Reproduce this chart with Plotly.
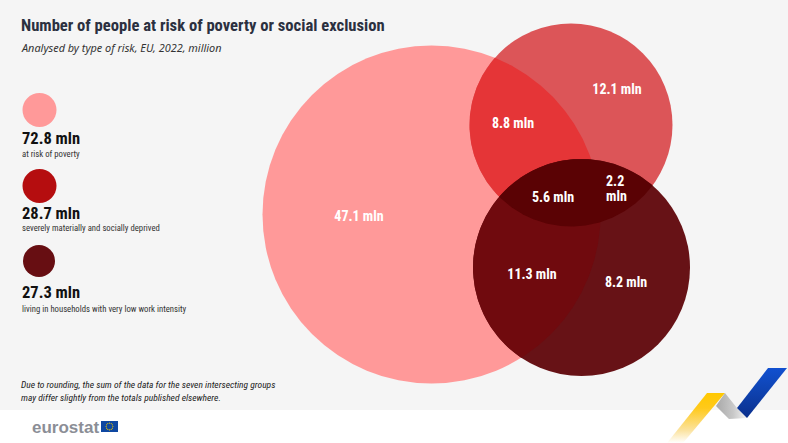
import numpy as np
import plotly.graph_objects as go

# ---- data ----
group_values = [72.8, 28.7, 27.3]
group_labels = ["at risk of poverty", "severely materially and socially deprived",
                "living in households with very low work intensity"]
group_colors = ["#FF9999", "#B50D0F", "#670E12"]
circle_x = [431.5, 571, 581.5]
circle_y = [214.5, 125, 267.5]
circle_r = [169, 101.5, 108.5]
body_colors = ["#FF9999", "#DC5558", "#671216"]
overlap_big_red = "#E53537"
overlap_big_dark = "#700A0E"
overlap_red_dark = "#5A0204"
segment_labels = ["47.1 mln", "12.1 mln", "8.8 mln", "5.6 mln", "11.3 mln", "8.2 mln"]
segment_x = [359, 617, 513, 553, 532, 626]
segment_y = [217.5, 90, 124, 198, 275.5, 283]
split_label = ["2.2", "mln"]
split_y = [181, 196]
legend_x = [39.5, 39.5, 39]
legend_y = [110, 186, 261]
legend_d = [34, 34, 32]
legend_value_y = [138, 213, 292]
legend_label_y = [154, 228, 309]

NARROW = "Roboto Condensed"
BG = "#F5F5F5"
fig = go.Figure()


def lens(a, b, n=160):
    """Outline of the intersection of circles a and b."""
    ax, ay, ar = circle_x[a], circle_y[a], circle_r[a]
    bx, by, br = circle_x[b], circle_y[b], circle_r[b]
    d = np.hypot(bx - ax, by - ay)
    t = np.arctan2(by - ay, bx - ax)
    ha = np.arccos((d * d + ar * ar - br * br) / (2 * d * ar))
    hb = np.arccos((d * d + br * br - ar * ar) / (2 * d * br))
    ta = np.linspace(t - ha, t + ha, n)
    tb = np.linspace(t + np.pi - hb, t + np.pi + hb, n)
    xs = np.r_[ax + ar * np.cos(ta), bx + br * np.cos(tb)]
    ys = np.r_[ay + ar * np.sin(ta), by + br * np.sin(tb)]
    return xs, ys


def circle(i):
    fig.add_trace(go.Scatter(x=[circle_x[i]], y=[circle_y[i]], mode="markers",
                             marker=dict(size=2 * circle_r[i], color=body_colors[i], opacity=1, line=dict(width=0))))


def region(a, b, color):
    xs, ys = lens(a, b)
    fig.add_trace(go.Scatter(x=xs, y=ys, mode="lines", fill="toself", fillcolor=color,
                             line=dict(width=0, color=color)))


def ribbon(xs, ys, gtype, stops):
    fig.add_trace(go.Scatter(x=xs, y=ys, mode="lines", fill="toself", line=dict(width=0),
                             fillgradient=dict(type=gtype, colorscale=stops)))


circle(0)
circle(1)
region(0, 1, overlap_big_red)
circle(2)
region(0, 2, overlap_big_dark)
region(1, 2, overlap_red_dark)

# legend circles
fig.add_trace(go.Scatter(x=legend_x, y=legend_y, mode="markers",
                         marker=dict(size=legend_d, color=group_colors, opacity=1, line=dict(width=0))))

# ribbon decoration
ribbon([707, 725, 683, 667, 707], [393, 393, 443, 443, 393], "vertical",
       [[0, "#FFFFFF"], [0.25, "#FBE3A0"], [0.7, "#FFC91A"], [1, "#FFC800"]])
ribbon([725, 716, 729, 747, 737, 725], [393, 406, 419, 418, 408, 393], "horizontal",
       [[0, "#A8A8A8"], [0.55, "#C8C8C8"], [1, "#F4F4F4"]])
ribbon([768, 787, 747, 737, 768], [368, 368, 418, 408, 368], "vertical",
       [[0, "#0A2F8C"], [0.6, "#0F45B5"], [1, "#1150D0"]])

# EU flag stars
angles = np.linspace(0, 2 * np.pi, 12, endpoint=False)
fig.add_trace(go.Scatter(x=109.5 + 3.4 * np.cos(angles), y=426.5 + 3.4 * np.sin(angles), mode="markers",
                         marker=dict(size=1.2, color="#E8C400", opacity=1, line=dict(width=0))))

# value labels
fig.add_trace(go.Scatter(x=segment_x, y=segment_y, mode="text", text=segment_labels,
                         textposition="middle center",
                         textfont=dict(family=NARROW, size=14, color="white", weight="bold")))
anns = []


def txt(x, y, s, size, color, weight="normal", style="normal", family=NARROW):
    anns.append(dict(x=x - 2, y=y, xref="x", yref="y", text=s, showarrow=False, xanchor="left", yanchor="middle",
                     align="left", font=dict(family=family, size=size, color=color, weight=weight, style=style)))


txt(21, 25, "Number of people at risk of poverty or social exclusion", 16.6, "#2B3040", "bold")
txt(21, 47, "Analysed by type of risk, EU, 2022, million", 10.9, "#333333", style="italic", family="Noto Sans")
for v, l, vy, ly in zip(group_values, group_labels, legend_value_y, legend_label_y):
    txt(22, vy, f"{v} mln", 16.5, "#111111", "bold")
    txt(22, ly, l, 8.7, "#333333")
for s, y in zip(split_label, split_y):
    txt(606, y, s, 14, "white", "bold")
txt(21, 384, "Due to rounding, the sum of the data for the seven intersecting groups", 9.5, "#222222", style="italic")
txt(21, 397, "may differ slightly from the totals published elsewhere.", 9.5, "#222222", style="italic")
txt(32, 427, "eurostat", 17, "#8B8E96", "bold", family="Liberation Sans")

fig.update_layout(
    width=788, height=443, autosize=False, showlegend=False,
    paper_bgcolor=BG, plot_bgcolor="rgba(0,0,0,0)",
    margin=dict(l=0, r=0, t=0, b=0),
    xaxis=dict(range=[0, 788], visible=False, fixedrange=True),
    yaxis=dict(range=[443, 0], visible=False, fixedrange=True),
    annotations=anns,
    shapes=[
        dict(type="rect", xref="x", yref="y", x0=0, x1=788, y0=410, y1=443,
             fillcolor="white", line_width=0, layer="below"),
        dict(type="rect", xref="x", yref="y", x0=101, x1=118, y0=421, y1=432,
             fillcolor="#0E47A1", line_width=0, layer="below"),
    ],
)
fig.write_html("out.html", config=dict(displayModeBar=False),
               post_script="document.body.style.margin='0';document.body.style.overflow='hidden';")
